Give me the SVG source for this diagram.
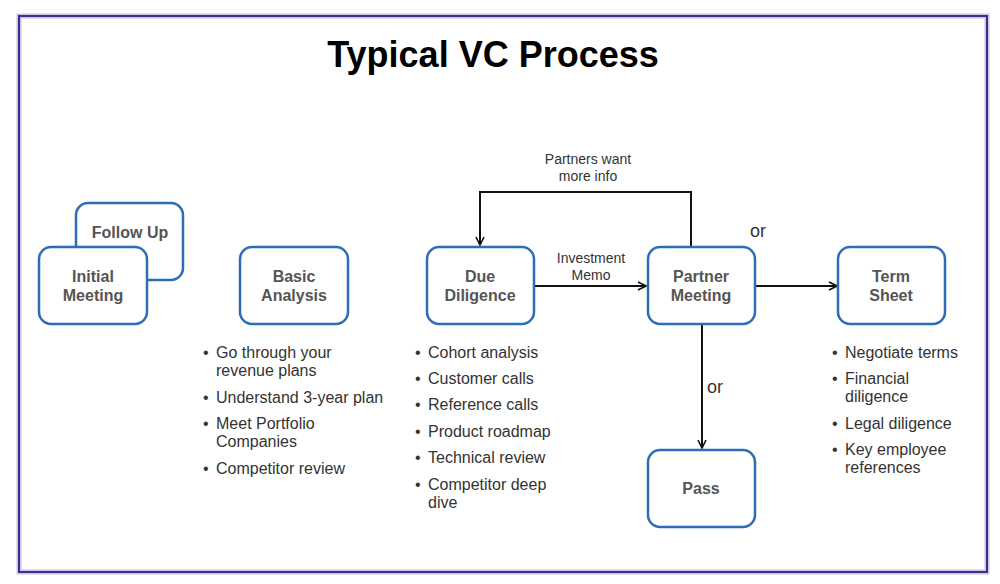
<svg xmlns="http://www.w3.org/2000/svg" width="1000" height="584" viewBox="0 0 1000 584">
<defs>
<marker id="arr" viewBox="0 0 10 10" refX="9" refY="5" markerWidth="10" markerHeight="10" markerUnits="userSpaceOnUse" orient="auto">
<path d="M1,1 L9,5 L1,9" fill="none" stroke="#111" stroke-width="1.6"/>
</marker>
</defs>
<style>
.box{fill:#fff;stroke:#2d6db3;stroke-width:2.5}
.nt{font-family:"Liberation Sans",Arial,sans-serif;font-weight:bold;font-size:16px;fill:#555;text-anchor:middle}
.bl{font-family:"Liberation Sans",Arial,sans-serif;font-size:16px;fill:#333}
.lb{font-family:"Liberation Sans",Arial,sans-serif;font-size:14px;fill:#333;text-anchor:middle}
.or{font-family:"Liberation Sans",Arial,sans-serif;font-size:18px;fill:#333}
.ln{fill:none;stroke:#111;stroke-width:2}
</style>
<rect width="1000" height="584" fill="#fff"/>
<rect x="19" y="16" width="968" height="556" fill="#fff" stroke="#c9c3e6" stroke-width="5"/>
<rect x="19" y="16" width="968" height="556" fill="none" stroke="#3b2f8f" stroke-width="2"/>
<text x="493" y="67" font-family="Liberation Sans,Arial,sans-serif" font-weight="bold" font-size="36" fill="#000" text-anchor="middle">Typical VC Process</text>

<g id="connectors">
<path class="ln" d="M691,247 V192 H480 V245" marker-end="url(#arr)"/>
<path class="ln" d="M534,286 H646" marker-end="url(#arr)"/>
<path class="ln" d="M755,286 H837" marker-end="url(#arr)"/>
<path class="ln" d="M702,324 V448" marker-end="url(#arr)"/>
<text class="lb" x="588" y="164">Partners want</text>
<text class="lb" x="588" y="181">more info</text>
<text class="lb" x="591" y="263">Investment</text>
<text class="lb" x="591" y="280">Memo</text>
<text class="or" x="750" y="237">or</text>
<text class="or" x="707" y="393">or</text>
</g>

<g id="follow-up">
<rect class="box" x="76" y="203" width="107" height="77" rx="12"/>
<text class="nt" x="130" y="238">Follow Up</text>
</g>
<g id="initial-meeting">
<rect class="box" x="39" y="247" width="108" height="77" rx="12"/>
<text class="nt" x="93" y="282">Initial</text>
<text class="nt" x="93" y="301">Meeting</text>
</g>
<g id="basic-analysis">
<rect class="box" x="240" y="247" width="108" height="77" rx="12"/>
<text class="nt" x="294" y="282">Basic</text>
<text class="nt" x="294" y="301">Analysis</text>
</g>
<g id="due-diligence">
<rect class="box" x="427" y="247" width="107" height="77" rx="12"/>
<text class="nt" x="480" y="282">Due</text>
<text class="nt" x="480" y="301">Diligence</text>
</g>
<g id="partner-meeting">
<rect class="box" x="648" y="247" width="107" height="77" rx="12"/>
<text class="nt" x="701" y="282">Partner</text>
<text class="nt" x="701" y="301">Meeting</text>
</g>
<g id="term-sheet">
<rect class="box" x="838" y="247" width="107" height="77" rx="12"/>
<text class="nt" x="891" y="282">Term</text>
<text class="nt" x="891" y="301">Sheet</text>
</g>
<g id="pass">
<rect class="box" x="648" y="450" width="107" height="77" rx="12"/>
<text class="nt" x="701" y="494">Pass</text>
</g>

<g id="basic-analysis-list" class="bl">
<text x="203" y="358">•</text><text x="216" y="358">Go through your</text>
<text x="216" y="376">revenue plans</text>
<text x="203" y="403">•</text><text x="216" y="403">Understand 3-year plan</text>
<text x="203" y="429">•</text><text x="216" y="429">Meet Portfolio</text>
<text x="216" y="447">Companies</text>
<text x="203" y="474">•</text><text x="216" y="474">Competitor review</text>
</g>
<g id="due-diligence-list" class="bl">
<text x="415" y="358">•</text><text x="428" y="358">Cohort analysis</text>
<text x="415" y="384">•</text><text x="428" y="384">Customer calls</text>
<text x="415" y="410">•</text><text x="428" y="410">Reference calls</text>
<text x="415" y="437">•</text><text x="428" y="437">Product roadmap</text>
<text x="415" y="463">•</text><text x="428" y="463">Technical review</text>
<text x="415" y="490">•</text><text x="428" y="490">Competitor deep</text>
<text x="428" y="508">dive</text>
</g>
<g id="term-sheet-list" class="bl">
<text x="832" y="358">•</text><text x="845" y="358">Negotiate terms</text>
<text x="832" y="384">•</text><text x="845" y="384">Financial</text>
<text x="845" y="402">diligence</text>
<text x="832" y="429">•</text><text x="845" y="429">Legal diligence</text>
<text x="832" y="455">•</text><text x="845" y="455">Key employee</text>
<text x="845" y="473">references</text>
</g>
</svg>
